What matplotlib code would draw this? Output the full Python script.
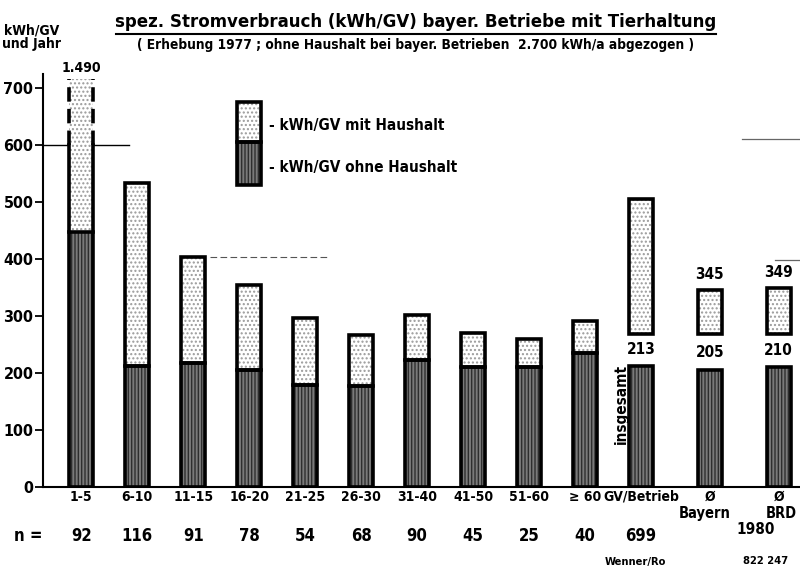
import matplotlib
matplotlib.use("Agg")
import matplotlib.pyplot as plt
from matplotlib.lines import Line2D
import numpy as np

plt.rcParams['font.family'] = ['DejaVu Sans']
plt.rcParams['font.stretch'] = 'condensed'
plt.rcParams['font.weight'] = 'bold'

# Daten
groups = ["1-5", "6-10", "11-15", "16-20", "21-25", "26-30", "31-40", "41-50",
          "51-60", "≥ 60", "GV/Betrieb", "Ø", "Ø"]
ohne_haushalt = [447, 212, 218, 205, 179, 177, 223, 211, 211, 235, 213, 205, 210]
mit_haushalt = [1490, 533, 403, 354, 297, 267, 302, 270, 260, 291, 505, 345, 349]
n_values = ["92", "116", "91", "78", "54", "68", "90", "45", "25", "40", "699"]
pos = [0, 1, 2, 3, 4, 5, 6, 7, 8, 9, 10.0, 11.23, 12.46]
yticks = [0, 100, 200, 300, 400, 500, 600, 700]

width = 0.43
cap = 715        # Balken 1-5 abgeschnitten
solid_top = 600  # darueber gestrichelt
sep_base = 268   # Sockel der oberen Balken bei den Summen

dark_face = '#7a7a7a'
dark_hatch = '#2e2e2e'
light_hatch = '#9a9a9a'

fig = plt.figure(figsize=(8, 5.7), dpi=100)
ax = fig.add_axes([0.054, 0.1456, 0.946, 0.73])
ax.set_xlim(-0.68, 12.84)
ax.set_ylim(0, 730)


def draw_bar(x, y0, y1, kind, ls='-'):
    if kind == 'dark':
        ax.bar(x, y1 - y0, width, bottom=y0, color=dark_face, edgecolor=dark_hatch,
               hatch='|||||', linewidth=0, zorder=2)
    else:
        ax.bar(x, y1 - y0, width, bottom=y0, color='white', edgecolor=light_hatch,
               hatch='....', linewidth=0, zorder=2)
    ax.bar(x, y1 - y0, width, bottom=y0, color='none', edgecolor='black',
           linewidth=2.6, linestyle=ls, zorder=3)


for i, x in enumerate(pos):
    lo, hi = ohne_haushalt[i], mit_haushalt[i]
    if i == 0:
        ax.bar(x, cap - lo, width, bottom=lo, color='white', edgecolor=light_hatch,
               hatch='....', linewidth=0, zorder=2)
        ax.plot([x - width / 2] * 2, [lo, solid_top], color='black', lw=2.6, zorder=3)
        ax.plot([x + width / 2] * 2, [lo, solid_top], color='black', lw=2.6, zorder=3)
        ax.plot([x - width / 2] * 2, [solid_top, cap], color='black', lw=2.6,
                ls=(0, (4, 2)), zorder=3)
        ax.plot([x + width / 2] * 2, [solid_top, cap], color='black', lw=2.6,
                ls=(0, (4, 2)), zorder=3)
        draw_bar(x, 0, lo, 'dark')
        ax.text(x, cap + 8, "1.490", ha='center', va='bottom', fontsize=10)
    elif i < 10:
        draw_bar(x, lo, hi, 'light')
        draw_bar(x, 0, lo, 'dark')
    else:
        draw_bar(x, sep_base, hi, 'light')
        draw_bar(x, 0, lo, 'dark')
        ax.text(x, (lo + sep_base) / 2, str(lo), ha='center', va='center', fontsize=11)
        if i > 10:
            ax.text(x, hi + 14, str(hi), ha='center', va='bottom', fontsize=11)

ax.text(pos[10] - 0.36, 145, "insgesamt", rotation=90, ha='center', va='center',
        fontsize=11)

# Achsen
for s in ['top', 'right']:
    ax.spines[s].set_visible(False)
ax.spines['left'].set_linewidth(1.5)
ax.spines['bottom'].set_linewidth(1.5)
ax.spines['left'].set_bounds(0, 725)
ax.set_yticks(yticks)
ax.set_yticklabels([str(v) for v in yticks], fontsize=11.5)
ax.tick_params(axis='y', length=6, width=1.3, pad=1)
ax.set_xticks(pos)
ax.set_xticklabels(groups, fontsize=10)
ax.tick_params(axis='x', length=0, pad=2)

ax.text(pos[11] - 0.1, -34, "Bayern", ha='center', va='top', fontsize=10.5)
ax.text(pos[12] + 0.05, -34, "BRD", ha='center', va='top', fontsize=10.5)
ax.text(12.05, -62, "1980", ha='center', va='top', fontsize=11)

ax.text(-0.95, -86, "n =", ha='center', va='center', fontsize=12)
for x, n in zip(pos, n_values):
    ax.text(x, -86, n, ha='center', va='center', fontsize=12)

ax.text(9.9, -131, "Wenner/Ro", ha='center', va='center', fontsize=8)
ax.text(12.23, -130, "822 247", ha='center', va='center', fontsize=8)

# Reste von Hilfslinien
ax.plot([-0.68, 0.85], [600, 600], color='black', lw=1.0, zorder=1)
ax.plot([2.3, 4.4], [403, 403], color='#555', lw=0.8, ls=(0, (6, 3)), zorder=1)
ax.plot([11.8, 12.84], [610, 610], color='#666', lw=0.9, zorder=1)
ax.plot([12.4, 12.84], [398, 398], color='#666', lw=0.9, zorder=1)

# Legende
lx = 3.0
draw_bar(lx, 605, 675, 'light')
draw_bar(lx, 530, 605, 'dark')
ax.text(lx + 0.35, 635, "- kWh/GV mit Haushalt", ha='left', va='center', fontsize=11)
ax.text(lx + 0.35, 560, "- kWh/GV ohne Haushalt", ha='left', va='center', fontsize=11)

# Titel
fig.text(0.519, 0.962, "spez. Stromverbrauch (kWh/GV) bayer. Betriebe mit Tierhaltung",
         ha='center', va='center', fontsize=13.3)
fig.add_artist(Line2D([0.145, 0.895], [0.94, 0.94], color='black', lw=1.5))
fig.text(0.519, 0.921,
         "( Erhebung 1977 ; ohne Haushalt bei bayer. Betrieben  2.700 kWh/a abgezogen )",
         ha='center', va='center', fontsize=9.8)
fig.text(0.04, 0.935, "kWh/GV\nund Jahr", ha='center', va='center', fontsize=10,
         linespacing=0.95)

fig.savefig("out.png", dpi=100)
